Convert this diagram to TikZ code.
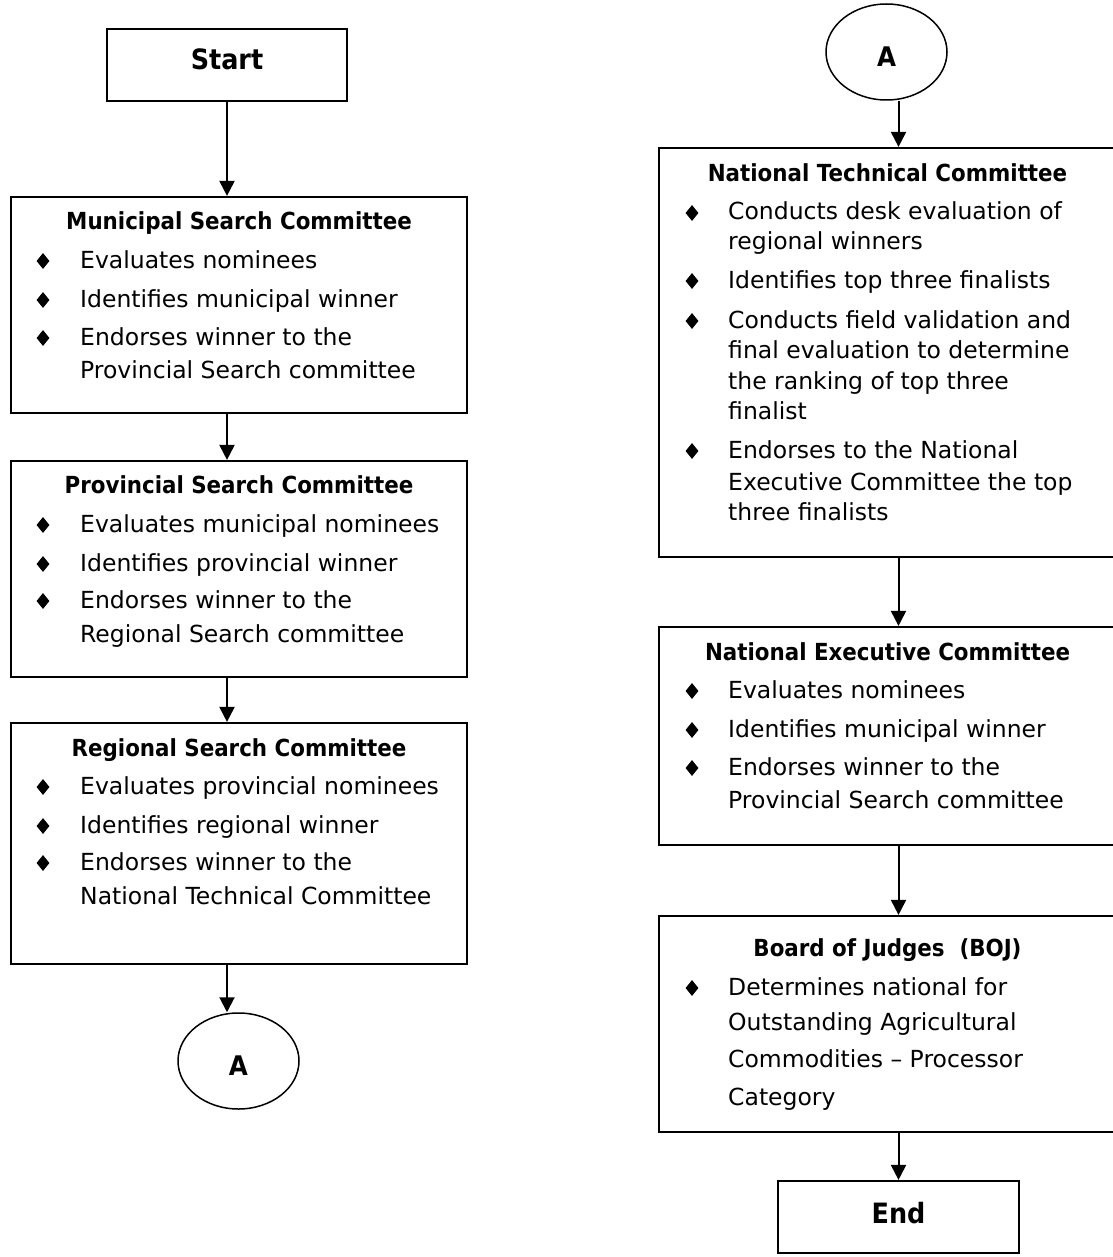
\documentclass[tikz,border=0pt]{standalone}
\usepackage{fontspec}
\setmainfont{DejaVu Sans}[BoldFeatures={FakeStretch=0.91}]
\usetikzlibrary{arrows.meta,shapes.geometric}
\tikzset{
  boxnode/.style={draw, line width=2.2pt, inner sep=0pt, rectangle},
  ovalnode/.style={draw, line width=1.5pt, ellipse, inner sep=0pt, minimum width=121pt, minimum height=96pt},
  txt/.style={anchor=base west, inner sep=0pt, font=\fontsize{23.5}{28}\selectfont},
  ttl/.style={anchor=base, inner sep=0pt, font=\fontsize{23.5}{28}\selectfont\bfseries},
  big/.style={anchor=base, inner sep=0pt, font=\fontsize{28}{32}\selectfont\bfseries},
  bul/.style={diamond, fill=black, inner sep=0pt, minimum width=13pt, minimum height=16pt},
  flow/.style={line width=2pt, -{Triangle[width=15pt,length=15pt]}},
}
\newcommand\litem[3]{\node[bul] (#1d) at (43,#2-7) {};\node[txt] (#1) at (80,#2) {#3};}
\newcommand\lcont[3]{\node[txt] (#1) at (80,#2) {#3};}
\newcommand\ritem[3]{\node[bul] (#1d) at (692,#2-7) {};\node[txt] (#1) at (728,#2) {#3};}
\newcommand\rcont[3]{\node[txt] (#1) at (728,#2) {#3};}
\begin{document}
\begin{tikzpicture}[x=1pt,y=-1pt]
\useasboundingbox (0,0) rectangle (1112,1257);
\coordinate (lx) at (227,0);
\coordinate (rx) at (898.5,0);
% left column
\node[boxnode, minimum width=240pt, minimum height=72pt] (start) at (227,65) {};
\node[big] (startt) at (227,70) {Start};
\node[boxnode, minimum width=456pt, minimum height=216pt] (msc) at (239,305) {};
\node[ttl] (msct) at (239,230) {Municipal Search Committee};
\litem{m1}{268}{Evaluates nominees}
\litem{m2}{307}{Identifies municipal winner}
\litem{m3}{345}{Endorses winner to the}
\lcont{m4}{378}{Provincial Search committee}
\node[boxnode, minimum width=456pt, minimum height=216pt] (psc) at (239,569) {};
\node[ttl] (psct) at (239,493) {Provincial Search Committee};
\litem{p1}{532}{Evaluates municipal nominees}
\litem{p2}{571}{Identifies provincial winner}
\litem{p3}{608}{Endorses winner to the}
\lcont{p4}{642}{Regional Search committee}
\node[boxnode, minimum width=456pt, minimum height=241pt] (rsc) at (239,843.5) {};
\node[ttl] (rsct) at (239,756) {Regional Search Committee};
\litem{r1}{794}{Evaluates provincial nominees}
\litem{r2}{833}{Identifies regional winner}
\litem{r3}{870}{Endorses winner to the}
\lcont{r4}{904}{National Technical Committee}
\node[ovalnode] (ea) at (238.5,1061) {};
\node[big, font=\fontsize{27}{30}\selectfont\bfseries] (eat) at (238.5,1075) {A};
% right column
\node[ovalnode] (eb) at (886.5,52) {};
\node[big, font=\fontsize{27}{30}\selectfont\bfseries] (ebt) at (886.5,67) {A};
\node[boxnode, minimum width=457pt, minimum height=409pt] (ntc) at (887.5,352.5) {};
\node[ttl] (ntct) at (887.5,182) {National Technical Committee};
\ritem{n1}{220}{Conducts desk evaluation of}
\rcont{n2}{250}{regional winners}
\ritem{n3}{288}{Identifies top three finalists}
\ritem{n4}{328}{Conducts field validation and}
\rcont{n5}{358}{final evaluation to determine}
\rcont{n6}{389}{the ranking of top three}
\rcont{n7}{419}{finalist}
\ritem{n8}{458}{Endorses to the National}
\rcont{n9}{490}{Executive Committee the top}
\rcont{n10}{520}{three finalists}
\node[boxnode, minimum width=457pt, minimum height=218pt] (nec) at (887.5,736) {};
\node[ttl] (nect) at (887.5,660) {National Executive Committee};
\ritem{e1}{698}{Evaluates nominees}
\ritem{e2}{737}{Identifies municipal winner}
\ritem{e3}{775}{Endorses winner to the}
\rcont{e4}{808}{Provincial Search committee}
\node[boxnode, minimum width=457pt, minimum height=216pt] (boj) at (887.5,1024) {};
\node[ttl] (bojt) at (887.5,956) {Board of Judges\ \ (BOJ)};
\ritem{b1}{995}{Determines national for}
\rcont{b2}{1030}{Outstanding Agricultural}
\rcont{b3}{1067}{Commodities – Processor}
\rcont{b4}{1105}{Category}
\node[boxnode, minimum width=241pt, minimum height=72pt] (end) at (898.5,1217) {};
\node[big] (endt) at (898.5,1223) {End};
% connectors
\draw[flow] (start.south) -- (start.south |- msc.north);
\draw[flow] (msc.south -| lx) -- (psc.north -| lx);
\draw[flow] (psc.south -| lx) -- (rsc.north -| lx);
\draw[flow] (rsc.south -| lx) -- (ea.north -| lx);
\draw[flow] (eb.south -| rx) -- (ntc.north -| rx);
\draw[flow] (ntc.south -| rx) -- (nec.north -| rx);
\draw[flow] (nec.south -| rx) -- (boj.north -| rx);
\draw[flow] (boj.south -| rx) -- (end.north);
\end{tikzpicture}
\end{document}
